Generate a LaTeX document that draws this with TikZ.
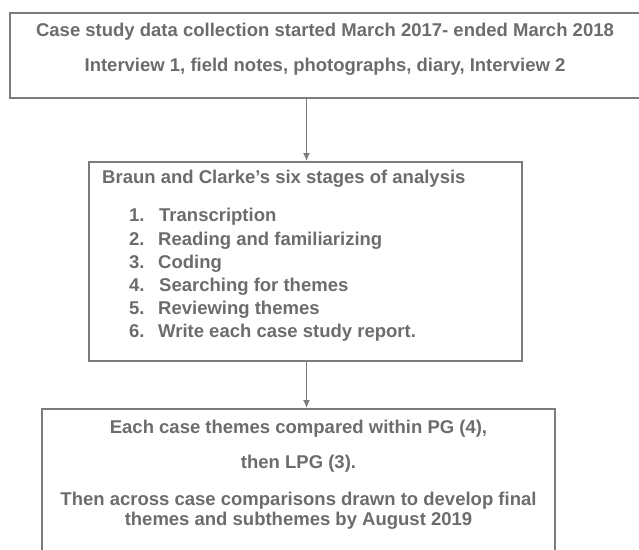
\documentclass[tikz,border=0pt]{standalone}
\usepackage{fontspec}
\setmainfont{Liberation Sans}
\usetikzlibrary{arrows.meta}
\definecolor{boxgray}{HTML}{7C7C7C}
\definecolor{txtgray}{HTML}{6C6C6C}
\tikzset{
  boxframe/.style={draw=boxgray,line width=1.8pt,inner sep=0pt},
  txt/.style={text=txtgray,font=\bfseries\fontsize{18.5}{22}\selectfont,inner sep=0pt,anchor=base},
  ltxt/.style={txt,anchor=base west},
  conn/.style={draw=boxgray,line width=1.5pt,-{Latex[length=8pt,width=7pt]}}
}
\begin{document}
\begin{tikzpicture}[x=1pt,y=-1pt]
\useasboundingbox (0,0) rectangle (639,549);
\clip (0,0) rectangle (639,549);
% boxes
\node[boxframe,minimum width=640pt,minimum height=85pt] (box1) at (330,55.5) {};
\node[boxframe,minimum width=433pt,minimum height=199pt] (box2) at (305.5,261.5) {};
\node[boxframe,minimum width=513pt,minimum height=180pt] (box3) at (298.5,499) {};
% texts box1
\node[txt] (t1a) at (325,36) {Case study data collection started March 2017- ended March 2018};
\node[txt] (t1b) at (325,71) {Interview 1, field notes, photographs, diary, Interview 2};
% texts box2
\node[ltxt] (t2) at (102,183) {Braun and Clarke’s six stages of analysis};
\node[ltxt] (n1) at (129,221) {1.};
\node[ltxt] (i1) at (159,221) {Transcription};
\node[ltxt] (n2) at (129,245) {2.};
\node[ltxt] (i2) at (158,245) {Reading and familiarizing};
\node[ltxt] (n3) at (129,268) {3.};
\node[ltxt] (i3) at (158,268) {Coding};
\node[ltxt] (n4) at (129,291) {4.};
\node[ltxt] (i4) at (159,291) {Searching for themes};
\node[ltxt] (n5) at (129,314) {5.};
\node[ltxt] (i5) at (158,314) {Reviewing themes};
\node[ltxt] (n6) at (129,337) {6.};
\node[ltxt] (i6) at (158,337) {Write each case study report.};
% texts box3
\node[txt] (t3a) at (298.5,433) {Each case themes compared within PG (4),};
\node[txt] (t3b) at (298.5,468) {then LPG (3).};
\node[txt] (t3c) at (298.5,505) {Then across case comparisons drawn to develop final};
\node[txt] (t3d) at (298.5,525) {themes and subthemes by August 2019};
% connectors
\coordinate (ax) at (306.5,0);
\draw[conn] (box1.south -| ax) -- (box2.north -| ax);
\draw[conn] (box2.south -| ax) -- (box3.north -| ax);
\end{tikzpicture}
\end{document}
